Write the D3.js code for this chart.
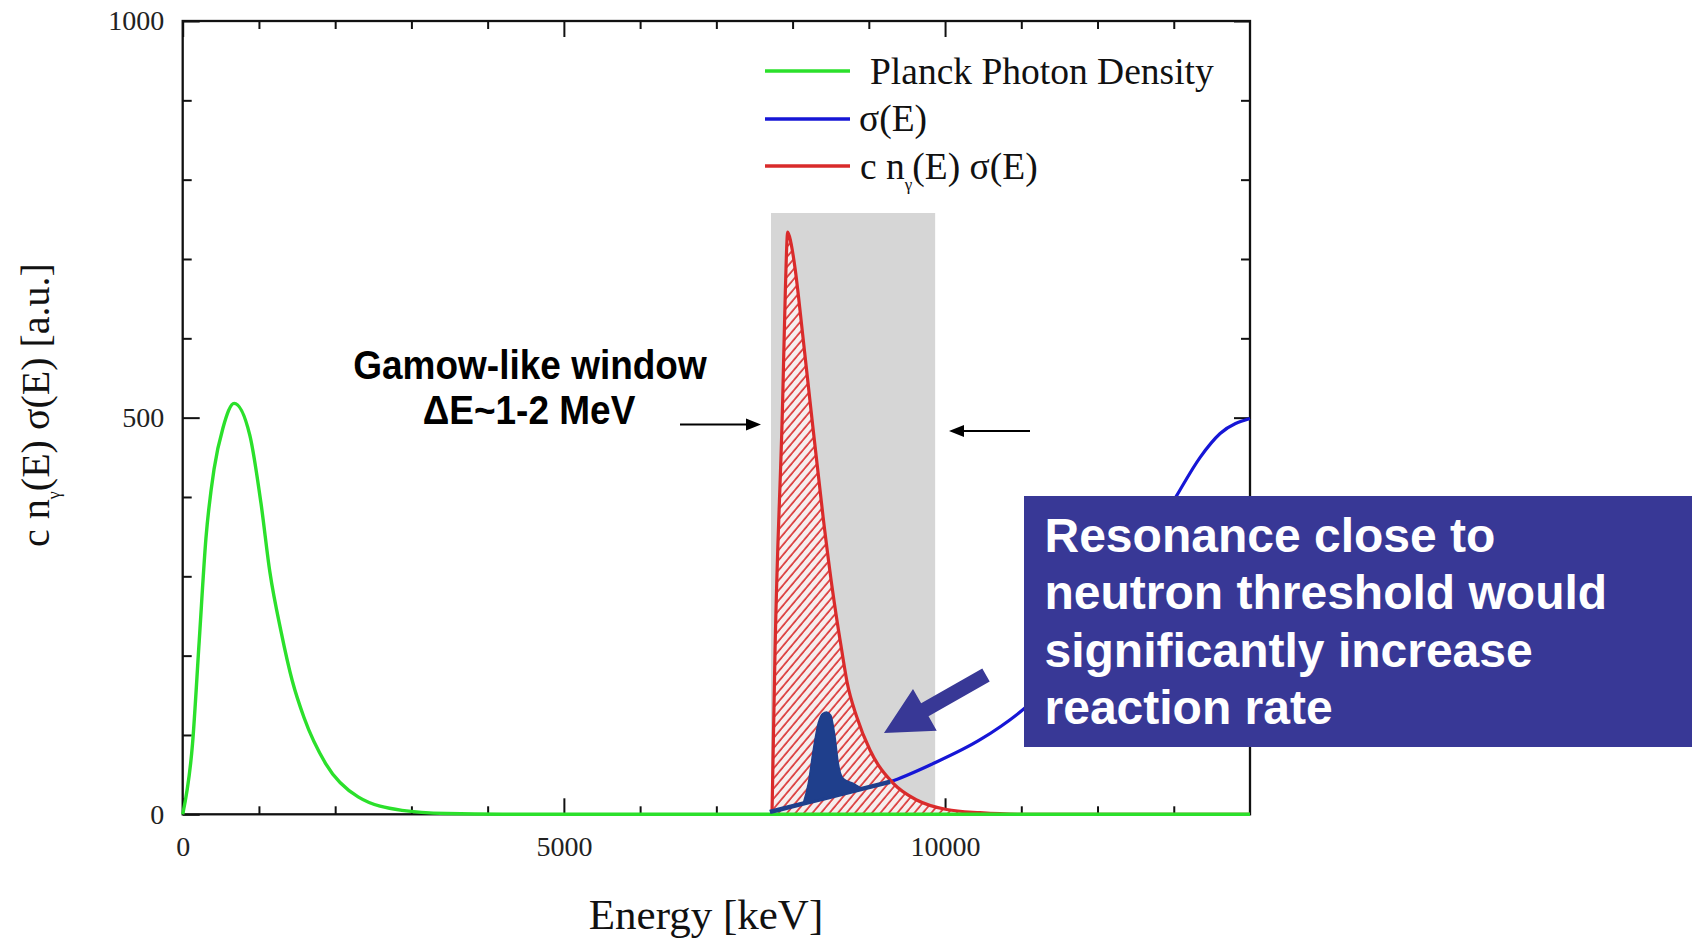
<!DOCTYPE html>
<html>
<head>
<meta charset="utf-8">
<script src="https://cdn.jsdelivr.net/npm/d3@7"></script>
<style>
  body { margin: 0; background: #fff; }
  svg { display: block; }
  .tick text { font-family: "Liberation Serif", serif; font-size: 28px; fill: #222; }
  .tick line { stroke: #111; stroke-width: 2; }
</style>
</head>
<body>
<div id="chart"></div>
<script>
// energies in keV, heights in a.u.
const xMajor = [0, 5000, 10000]
const xMinor = [1000, 2000, 3000, 4000, 6000, 7000, 8000, 9000, 11000, 12000, 13000]
const yMajor = [0, 500, 1000]
const yMinor = [100, 200, 300, 400, 600, 700, 800, 900]

const planckE = [0, 129, 217, 305, 411, 528, 675, 880, 1027, 1144, 1291, 1438, 1591, 1875, 2301, 2876, 3463, 4200, 14000]
const planckV = [0, 89, 219, 348, 435, 487, 518, 478, 392, 305, 230, 168, 122, 64, 22, 5, 1, 0, 0]

const sigmaE = [7703, 8200, 8700, 9280, 9845, 10460, 11036, 11500, 12000, 12500, 13040, 13346, 13608, 14000]
const sigmaV = [3, 15, 27, 41, 64, 94, 133, 175, 232, 310, 402, 450, 480, 499]

const rateE = [7730, 7770, 7870, 7905, 7936, 7975, 8030, 8131, 8227, 8400, 8520, 8644, 8718, 8841, 9015, 9321, 9628, 10021, 10460, 11000, 14000]
const rateV = [0, 207, 522, 660, 734, 722, 690, 606, 522, 375, 285, 207, 165, 123, 81, 39, 18, 6, 2, 0, 0]

// hand drawn resonance on top of sigma(E)
const resE = [8140, 8206, 8271, 8337, 8395, 8447, 8500, 8556, 8600, 8665, 8796, 8900]
const resLow = [14, 15, 17, 18, 20, 21, 22, 24, 25, 26, 29, 32]
const resHigh = [14, 39, 81, 115, 127, 129, 125, 98, 64, 45, 39, 33]
const resLineE = [7703, 8200, 8700, 9280]
const resLineV = [3, 15, 27, 41]

const windowE = [7717, 9870]
const windowTop = 758

const legendLabels = ["Planck Photon Density", "σ(E)", "c n(E) σ(E)"]
const boxLines = ["Resonance close to", "neutron threshold would", "significantly increase", "reaction rate"]

const W = 1697, H = 941
const box = { left: 182.7, right: 1250, top: 21, bottom: 814.3 }

const green = "#2be02b", blue = "#1616d6", red = "#d92b2b", navy = "#1f3f8c", callout = "#383896"

const x = d3.scaleLinear().domain([0, 14000]).range([box.left, box.right])
const y = d3.scaleLinear().domain([0, 1000]).range([box.bottom, box.top])

const svg = d3.select("#chart").append("svg")
    .attr("width", W)
    .attr("height", H)
    .style("background", "#fff")

// hatch for the red area
const defs = svg.append("defs")
defs.append("pattern")
    .attr("id", "hatch")
    .attr("patternUnits", "userSpaceOnUse")
    .attr("width", 6.5)
    .attr("height", 6.5)
    .attr("patternTransform", "rotate(40)")
  .call(p => p.append("rect").attr("width", 6.5).attr("height", 6.5).attr("fill", "#f6eeee"))
  .append("line")
    .attr("x1", 1).attr("y1", 0).attr("x2", 1).attr("y2", 6.5)
    .attr("stroke", red)
    .attr("stroke-width", 1.6)

// gamow window
svg.append("rect")
    .attr("x", x(windowE[0]))
    .attr("y", y(windowTop))
    .attr("width", x(windowE[1]) - x(windowE[0]))
    .attr("height", y(0) - y(windowTop))
    .attr("fill", "#d6d6d6")

// axes: major ticks with labels, minor ticks plain
function ticks(g, axis, vals, len, labels) {
  g.call(axis.tickValues(vals).tickSizeInner(-len).tickSizeOuter(0)
      .tickFormat(labels ? d3.format("d") : ""))
  g.select(".domain").remove()
}
svg.append("g").attr("transform", `translate(0,${box.bottom})`)
  .call(g => ticks(g, d3.axisBottom(x).tickPadding(22), xMajor, 16, true))
svg.append("g").attr("transform", `translate(0,${box.bottom})`)
  .call(g => ticks(g, d3.axisBottom(x), xMinor, 8, false))
svg.append("g").attr("transform", `translate(0,${box.top})`)
  .call(g => ticks(g, d3.axisTop(x), xMajor, 16, false))
svg.append("g").attr("transform", `translate(0,${box.top})`)
  .call(g => ticks(g, d3.axisTop(x), xMinor, 8, false))
svg.append("g").attr("transform", `translate(${box.left},0)`)
  .call(g => ticks(g, d3.axisLeft(y).tickPadding(18.5), yMajor, 17, true))
svg.append("g").attr("transform", `translate(${box.left},0)`)
  .call(g => ticks(g, d3.axisLeft(y), yMinor, 9, false))
svg.append("g").attr("transform", `translate(${box.right},0)`)
  .call(g => ticks(g, d3.axisRight(y), yMajor, 16, false))
svg.append("g").attr("transform", `translate(${box.right},0)`)
  .call(g => ticks(g, d3.axisRight(y), yMinor, 9, false))

svg.append("rect")
    .attr("x", box.left).attr("y", box.top)
    .attr("width", box.right - box.left)
    .attr("height", box.bottom - box.top)
    .attr("fill", "none")
    .attr("stroke", "#111")
    .attr("stroke-width", 2.3)

const line = d3.line().x(d => x(d[0])).y(d => y(d[1])).curve(d3.curveMonotoneX)
const area = d3.area().x(d => x(d[0])).y0(y(0)).y1(d => y(d[1])).curve(d3.curveMonotoneX)

const planck = planckE.map((e, i) => [e, planckV[i]])
const sigma = sigmaE.map((e, i) => [e, sigmaV[i]])
const rate = rateE.map((e, i) => [e, rateV[i]])

svg.append("path").datum(sigma)
    .attr("d", line).attr("fill", "none")
    .attr("stroke", blue).attr("stroke-width", 3.2)

svg.append("path").datum(rate.filter(d => d[0] <= 10460))
    .attr("d", area).attr("fill", "url(#hatch)")
svg.append("path").datum(rate)
    .attr("d", line).attr("fill", "none")
    .attr("stroke", red).attr("stroke-width", 3.2)

svg.append("path").datum(planck)
    .attr("d", line).attr("fill", "none")
    .attr("stroke", green).attr("stroke-width", 3.4)

// resonance overlay
svg.append("path").datum(resLineE.map((e, i) => [e, resLineV[i]]))
    .attr("d", line).attr("fill", "none")
    .attr("stroke", navy).attr("stroke-width", 4.5)
svg.append("path").datum(resE.map((e, i) => ({ e, lo: resLow[i], hi: resHigh[i] })))
    .attr("d", d3.area().x(d => x(d.e)).y0(d => y(d.lo)).y1(d => y(d.hi)).curve(d3.curveMonotoneX))
    .attr("fill", navy)
    .attr("stroke", navy).attr("stroke-width", 1.5)

// legend
const legendY = [71, 119, 166]
const legendColors = [green, blue, red]
const legend = svg.append("g").attr("font-family", "Liberation Serif, serif").attr("font-size", 37.5).attr("fill", "#111")
legendY.forEach((ly, i) => {
  legend.append("line")
      .attr("x1", 765).attr("x2", 850).attr("y1", ly).attr("y2", ly)
      .attr("stroke", legendColors[i]).attr("stroke-width", 3.5)
})
legend.append("text").attr("x", 870).attr("y", 84).text(legendLabels[0])
legend.append("text").attr("x", 859).attr("y", 131).text(legendLabels[1])
legend.append("text").attr("x", 860).attr("y", 179)
  .call(t => t.append("tspan").text("c n"))
  .call(t => t.append("tspan").attr("font-size", 17).attr("dy", 11).text("γ"))
  .call(t => t.append("tspan").attr("dy", -11).text("(E) σ(E)"))

// axis titles
svg.append("text")
    .attr("x", 706).attr("y", 929)
    .attr("text-anchor", "middle")
    .attr("font-family", "Liberation Serif, serif")
    .attr("font-size", 43)
    .attr("fill", "#111")
    .text("Energy [keV]")

svg.append("text")
    .attr("transform", "translate(49,405) rotate(-90)")
    .attr("text-anchor", "middle")
    .attr("font-family", "Liberation Serif, serif")
    .attr("font-size", 40)
    .attr("fill", "#111")
  .call(t => t.append("tspan").text("c n"))
  .call(t => t.append("tspan").attr("font-size", 18).attr("dy", 11).text("γ"))
  .call(t => t.append("tspan").attr("dy", -11).text("(E) σ(E) [a.u.]"))

// gamow window annotation
const gamow = svg.append("g")
    .attr("font-family", "Liberation Sans, Arial, sans-serif")
    .attr("font-weight", "bold")
    .attr("font-size", 40)
    .attr("fill", "#000")
    .attr("text-anchor", "middle")
gamow.append("text").attr("transform", "translate(530,379) scale(0.925,1)").text("Gamow-like window")
gamow.append("text").attr("transform", "translate(529,424) scale(0.925,1)").text("ΔE~1-2 MeV")

function smallArrow(x1, x2, yy) {
  const dir = Math.sign(x2 - x1)
  svg.append("line")
      .attr("x1", x1).attr("x2", x2 - dir * 12).attr("y1", yy).attr("y2", yy)
      .attr("stroke", "#000").attr("stroke-width", 2)
  svg.append("path")
      .attr("d", `M${x2},${yy} L${x2 - dir * 15},${yy - 6} L${x2 - dir * 15},${yy + 6} Z`)
      .attr("fill", "#000")
}
smallArrow(680, 761, 424.5)
smallArrow(1030, 949, 431)

// callout box
svg.append("rect")
    .attr("x", 1024).attr("y", 496)
    .attr("width", 668).attr("height", 251)
    .attr("fill", callout)
svg.append("g")
    .attr("font-family", "Liberation Sans, Arial, sans-serif")
    .attr("font-weight", "bold")
    .attr("font-size", 48)
    .attr("fill", "#fff")
  .selectAll("text")
  .data(boxLines)
  .join("text")
    .attr("x", 1044.5)
    .attr("y", (d, i) => 552 + i * 57.3)
    .text(d => d)

// fat arrow pointing at the resonance
function fatArrow(tail, tip, shaftW, headL, headW) {
  const dx = tip[0] - tail[0], dy = tip[1] - tail[1]
  const len = Math.hypot(dx, dy)
  const ux = dx / len, uy = dy / len, px = -uy, py = ux
  const bx = tip[0] - ux * headL, by = tip[1] - uy * headL
  const pts = [
    [tail[0] + px * shaftW / 2, tail[1] + py * shaftW / 2],
    [bx + px * shaftW / 2, by + py * shaftW / 2],
    [bx + px * headW / 2, by + py * headW / 2],
    tip,
    [bx - px * headW / 2, by - py * headW / 2],
    [bx - px * shaftW / 2, by - py * shaftW / 2],
    [tail[0] - px * shaftW / 2, tail[1] - py * shaftW / 2]
  ]
  svg.append("path").attr("d", "M" + pts.join("L") + "Z").attr("fill", callout)
}
fatArrow([986, 675], [884, 733], 15, 47, 48)
</script>
</body>
</html>
